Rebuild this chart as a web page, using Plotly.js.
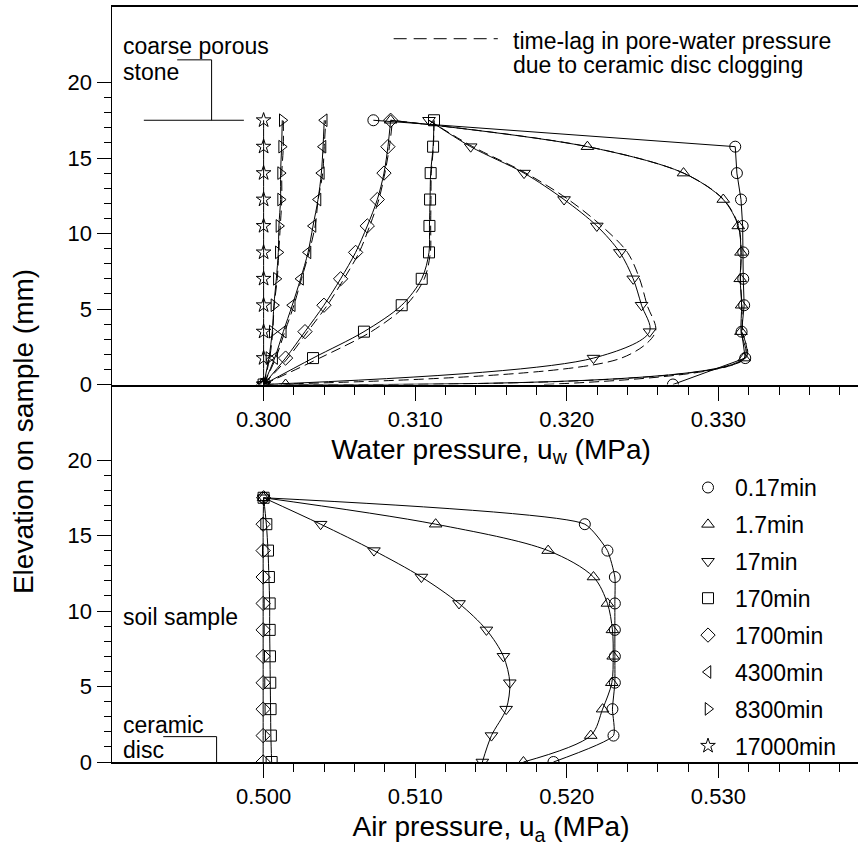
<!DOCTYPE html>
<html>
<head>
<meta charset="utf-8">
<script src="https://cdn.plot.ly/plotly-3.0.1.min.js"></script>
<style>
html, body { margin: 0; padding: 0; overflow: hidden; background: #ffffff; }
#chart { width: 870px; height: 848px; }
</style>
</head>
<body>
<div id="chart"></div>
<script>
// ---------------- DATA ----------------
// Elevation of computation nodes on the sample (mm)
const elevation = [0, 1.75, 3.5, 5.25, 7, 8.75, 10.5, 12.25, 14, 15.75, 17.5];

// Legend labels (elapsed time)
const timeLabels = ['0.17min', '1.7min', '17min', '170min', '1700min', '4300min', '8300min', '17000min'];

// Water pressure u_w (MPa), solid curves with markers
const uw_0_17min = [0.32700, 0.33177, 0.33153, 0.33170, 0.33164, 0.33164, 0.33160, 0.33149, 0.33122, 0.33111, 0.30724];
const uw_1_7min  = [0.30145, 0.33170, 0.33149, 0.33153, 0.33144, 0.33149, 0.33131, 0.33032, 0.32770, 0.32136, 0.30838];
const uw_17min   = [0.30000, 0.32176, 0.32546, 0.32493, 0.32438, 0.32350, 0.32198, 0.31982, 0.31718, 0.31366, 0.31091];
const uw_170min  = [0.30000, 0.30326, 0.30662, 0.30911, 0.31043, 0.31091, 0.31094, 0.31098, 0.31102, 0.31118, 0.31124];
const uw_1700min = [0.30000, 0.30145, 0.30273, 0.30398, 0.30508, 0.30607, 0.30684, 0.30750, 0.30794, 0.30820, 0.30838];
const uw_4300min = [0.30000, 0.30073, 0.30130, 0.30189, 0.30244, 0.30293, 0.30326, 0.30359, 0.30381, 0.30392, 0.30400];
const uw_8300min = [0.30000, 0.30035, 0.30057, 0.30068, 0.30084, 0.30097, 0.30101, 0.30112, 0.30112, 0.30119, 0.30123];
const uw_17000min = [0.30000, 0.30000, 0.30000, 0.30000, 0.30000, 0.30000, 0.30000, 0.30000, 0.30000, 0.30000, 0.30000];

// Water pressure with time-lag due to ceramic disc clogging (dashed curves)
const uwLag_0_17min = [0.31850, 0.33177, 0.33153, null, null, null, null, null, null, null, null];
const uwLag_1_7min  = [0.30030, 0.33180, 0.33160, 0.33155, 0.33146, 0.33150, 0.33133, 0.33035, 0.32770, 0.32140, 0.30840];
const uwLag_17min   = [0.30000, 0.32360, 0.32585, 0.32530, 0.32480, 0.32400, 0.32230, 0.32010, 0.31730, 0.31380, 0.31090];
const uwLag_170min  = [0.30000, 0.30370, 0.30710, 0.30940, 0.31060, 0.31100, 0.31102, 0.31104, 0.31106, 0.31120, 0.31124];
const uwLag_1700min = [0.30000, 0.30160, 0.30290, 0.30420, 0.30530, 0.30630, 0.30700, 0.30760, 0.30800, 0.30830, 0.30850];
const uwLag_4300min = [0.30000, 0.30080, 0.30140, 0.30200, 0.30250, 0.30300, 0.30340, 0.30360, 0.30390, 0.30400, 0.30410];
const uwLag_8300min = [0.30000, 0.30040, 0.30060, 0.30070, 0.30090, 0.30100, 0.30110, 0.30120, 0.30120, 0.30130, 0.30130];

// Air pressure u_a (MPa)
const ua_0_17min = [0.51912, 0.52308, 0.52301, 0.52317, 0.52317, 0.52317, 0.52317, 0.52317, 0.52268, 0.52119, 0.50000];
const ua_1_7min  = [0.51714, 0.52158, 0.52236, 0.52297, 0.52306, 0.52301, 0.52268, 0.52176, 0.51877, 0.51135, 0.50000];
const ua_17min   = [0.51443, 0.51503, 0.51600, 0.51624, 0.51582, 0.51470, 0.51289, 0.51041, 0.50728, 0.50376, 0.50000];
const ua_170min  = [0.50053, 0.50048, 0.50046, 0.50044, 0.50042, 0.50040, 0.50040, 0.50035, 0.50029, 0.50018, 0.50000];
const ua_1700min = [0.49997, 0.49997, 0.49997, 0.49997, 0.49997, 0.49997, 0.49997, 0.49997, 0.49997, 0.49997, 0.50000];

// Axis tick labels
const uwTickVals = [0.300, 0.310, 0.320, 0.330];
const uwTickText = ['0.300', '0.310', '0.320', '0.330'];
const uaTickVals = [0.500, 0.510, 0.520, 0.530];
const uaTickText = ['0.500', '0.510', '0.520', '0.530'];
const zTickVals = [0, 5, 10, 15, 20];

// ---------------- STYLE ----------------
const FONT = 'Liberation Sans, Arial, Helvetica, sans-serif';
const symbols = ['circle-open', 'triangle-up-open', 'triangle-down-open', 'square-open',
                 'diamond-open', 'triangle-left-open', 'triangle-right-open', 'star-open'];
const lineShapes = ['linear', 'spline', 'spline', 'spline', 'spline', 'spline', 'spline', 'spline'];
const MS = 11;

const uwSeries = [uw_0_17min, uw_1_7min, uw_17min, uw_170min, uw_1700min, uw_4300min, uw_8300min, uw_17000min];
const uwLagSeries = [uwLag_0_17min, uwLag_1_7min, uwLag_17min, uwLag_170min, uwLag_1700min, uwLag_4300min, uwLag_8300min];
const uaSeries = [ua_0_17min, ua_1_7min, ua_17min, ua_170min, ua_1700min];

const traces = [];
// dashed time-lag curves (top panel)
uwLagSeries.forEach(function (xs) {
  traces.push({
    x: xs, y: elevation, xaxis: 'x', yaxis: 'y', type: 'scatter', mode: 'lines',
    line: { color: '#000', width: 1, dash: '10px,5px', shape: 'spline', smoothing: 0.9 },
    connectgaps: false, showlegend: false, hoverinfo: 'skip'
  });
});
// solid curves with markers (top panel)
uwSeries.forEach(function (xs, i) {
  traces.push({
    x: xs, y: elevation, xaxis: 'x', yaxis: 'y', type: 'scatter', mode: 'lines+markers',
    line: { color: '#000', width: 1, shape: lineShapes[i], smoothing: 0.9 },
    marker: { symbol: symbols[i], size: MS, color: '#000', line: { color: '#000', width: 1 } },
    showlegend: false, name: timeLabels[i]
  });
});
// solid curves with markers (bottom panel)
uaSeries.forEach(function (xs, i) {
  traces.push({
    x: xs, y: elevation, xaxis: 'x2', yaxis: 'y2', type: 'scatter', mode: 'lines+markers',
    line: { color: '#000', width: 1, shape: 'spline', smoothing: i === 0 ? 0.5 : 0.9 },
    marker: { symbol: symbols[i], size: MS, color: '#000', line: { color: '#000', width: 1 } },
    showlegend: false, name: timeLabels[i]
  });
});
// legend entries (markers only)
timeLabels.forEach(function (lab, i) {
  traces.push({
    x: [null], y: [null], xaxis: 'x2', yaxis: 'y2', type: 'scatter', mode: 'markers',
    marker: { symbol: symbols[i], size: MS, color: '#000', line: { color: '#000', width: 1 } },
    name: lab, legendgroup: 'g' + i, showlegend: true
  });
});

// minor ticks
function minorTicks(start, step, count) {
  const out = [];
  for (let i = 1; i < count; i++) { if (i % 5 !== 0) out.push(+(start + i * step).toFixed(4)); }
  return out;
}
const uwMinor = minorTicks(0.300, 0.002, 20);
const uaMinor = minorTicks(0.500, 0.002, 20);
const zMinor = minorTicks(0, 1, 20);

function xAxis(range, tv, tt, minor, title, anchor, mirror) {
  return {
    anchor: anchor, domain: [0, 1], range: range, showgrid: false, zeroline: false,
    showline: true, linecolor: '#000', linewidth: 2, mirror: mirror,
    ticks: 'outside', ticklen: 14, tickwidth: 1, tickcolor: '#000',
    tickmode: 'array', tickvals: tv, ticktext: tt,
    tickfont: { family: FONT, size: 22, color: '#000' },
    minor: { tickmode: 'array', tickvals: minor, ticks: 'outside', ticklen: 8, tickwidth: 1, tickcolor: '#000', showgrid: false },
    title: { text: title, font: { family: FONT, size: 28, color: '#000' }, standoff: 8 }
  };
}
function yAxis(domain, anchor) {
  return {
    anchor: anchor, domain: domain, range: [0, 25], showgrid: false, zeroline: false,
    showline: true, linecolor: '#000', linewidth: 1.5,
    ticks: 'outside', ticklen: 14, tickwidth: 1, tickcolor: '#000',
    tickmode: 'array', tickvals: zTickVals, ticktext: zTickVals.map(String),
    tickfont: { family: FONT, size: 22, color: '#000' },
    minor: { tickmode: 'array', tickvals: zMinor, ticks: 'outside', ticklen: 7, tickwidth: 1, tickcolor: '#000', showgrid: false }
  };
}

const ann = function (text, x, y, xref, yref, extra) {
  return Object.assign({ text: text, x: x, y: y, xref: xref, yref: yref, showarrow: false,
    xanchor: 'left', yanchor: 'middle', font: { family: FONT, size: 23, color: '#000' } }, extra || {});
};

const layout = {
  width: 870, height: 848,
  margin: { l: 112, r: 0, t: 7, b: 86 },
  paper_bgcolor: '#fff', plot_bgcolor: 'rgba(0,0,0,0)',
  font: { family: FONT, size: 22, color: '#000' },
  showlegend: true,
  legend: {
    x: (681 - 112) / 758, xanchor: 'left', y: 0.392, yanchor: 'top',
    font: { family: FONT, size: 23, color: '#000' },
    itemwidth: 44, tracegroupgap: 4, bgcolor: 'rgba(0,0,0,0)', borderwidth: 0
  },
  xaxis: xAxis([0.290, 0.340], uwTickVals, uwTickText, uwMinor, 'Water pressure, u<sub>w</sub> (MPa)', 'y', true),
  xaxis2: xAxis([0.490, 0.540], uaTickVals, uaTickText, uaMinor, 'Air pressure, u<sub>a</sub> (MPa)', 'y2', false),
  yaxis: yAxis([0.5, 1], 'x'),
  yaxis2: yAxis([0, 0.5], 'x2'),
  annotations: [
    ann('Elevation on sample (mm)', -0.1174, 0.437, 'paper', 'paper', { xanchor: 'center', textangle: -90, font: { family: FONT, size: 28, color: '#000' } }),
    ann('time-lag in pore-water pressure', 0.31630, 22.78, 'x', 'y'),
    ann('due to ceramic disc clogging', 0.31630, 21.13, 'x', 'y'),
    ann('coarse porous', 0.29061, 22.4, 'x', 'y'),
    ann('stone', 0.29061, 20.68, 'x', 'y'),
    ann('soil sample', 0.49061, 9.6, 'x2', 'y2'),
    ann('ceramic', 0.49061, 2.45, 'x2', 'y2'),
    ann('disc', 0.49061, 0.8, 'x2', 'y2')
  ],
  shapes: [
    // dashed legend sample line
    { type: 'line', xref: 'x', yref: 'y', x0: 0.30858, x1: 0.31545, y0: 22.9, y1: 22.9, line: { color: '#000', width: 1, dash: '13px,7px' } },
    // coarse porous stone bracket
    { type: 'path', xref: 'x', yref: 'y', path: 'M 0.29430 21.5 L 0.29657 21.5 L 0.29657 17.5', line: { color: '#000', width: 1 } },
    { type: 'line', xref: 'x', yref: 'y', x0: 0.29210, x1: 0.29870, y0: 17.5, y1: 17.5, line: { color: '#000', width: 1 } },
    // ceramic disc bracket
    { type: 'path', xref: 'x2', yref: 'y2', path: 'M 0.49338 1.68 L 0.49690 1.68 L 0.49690 0', line: { color: '#000', width: 1 } }
  ]
};

Plotly.newPlot('chart', traces, layout, { displayModeBar: false, staticPlot: true });
</script>
</body>
</html>
